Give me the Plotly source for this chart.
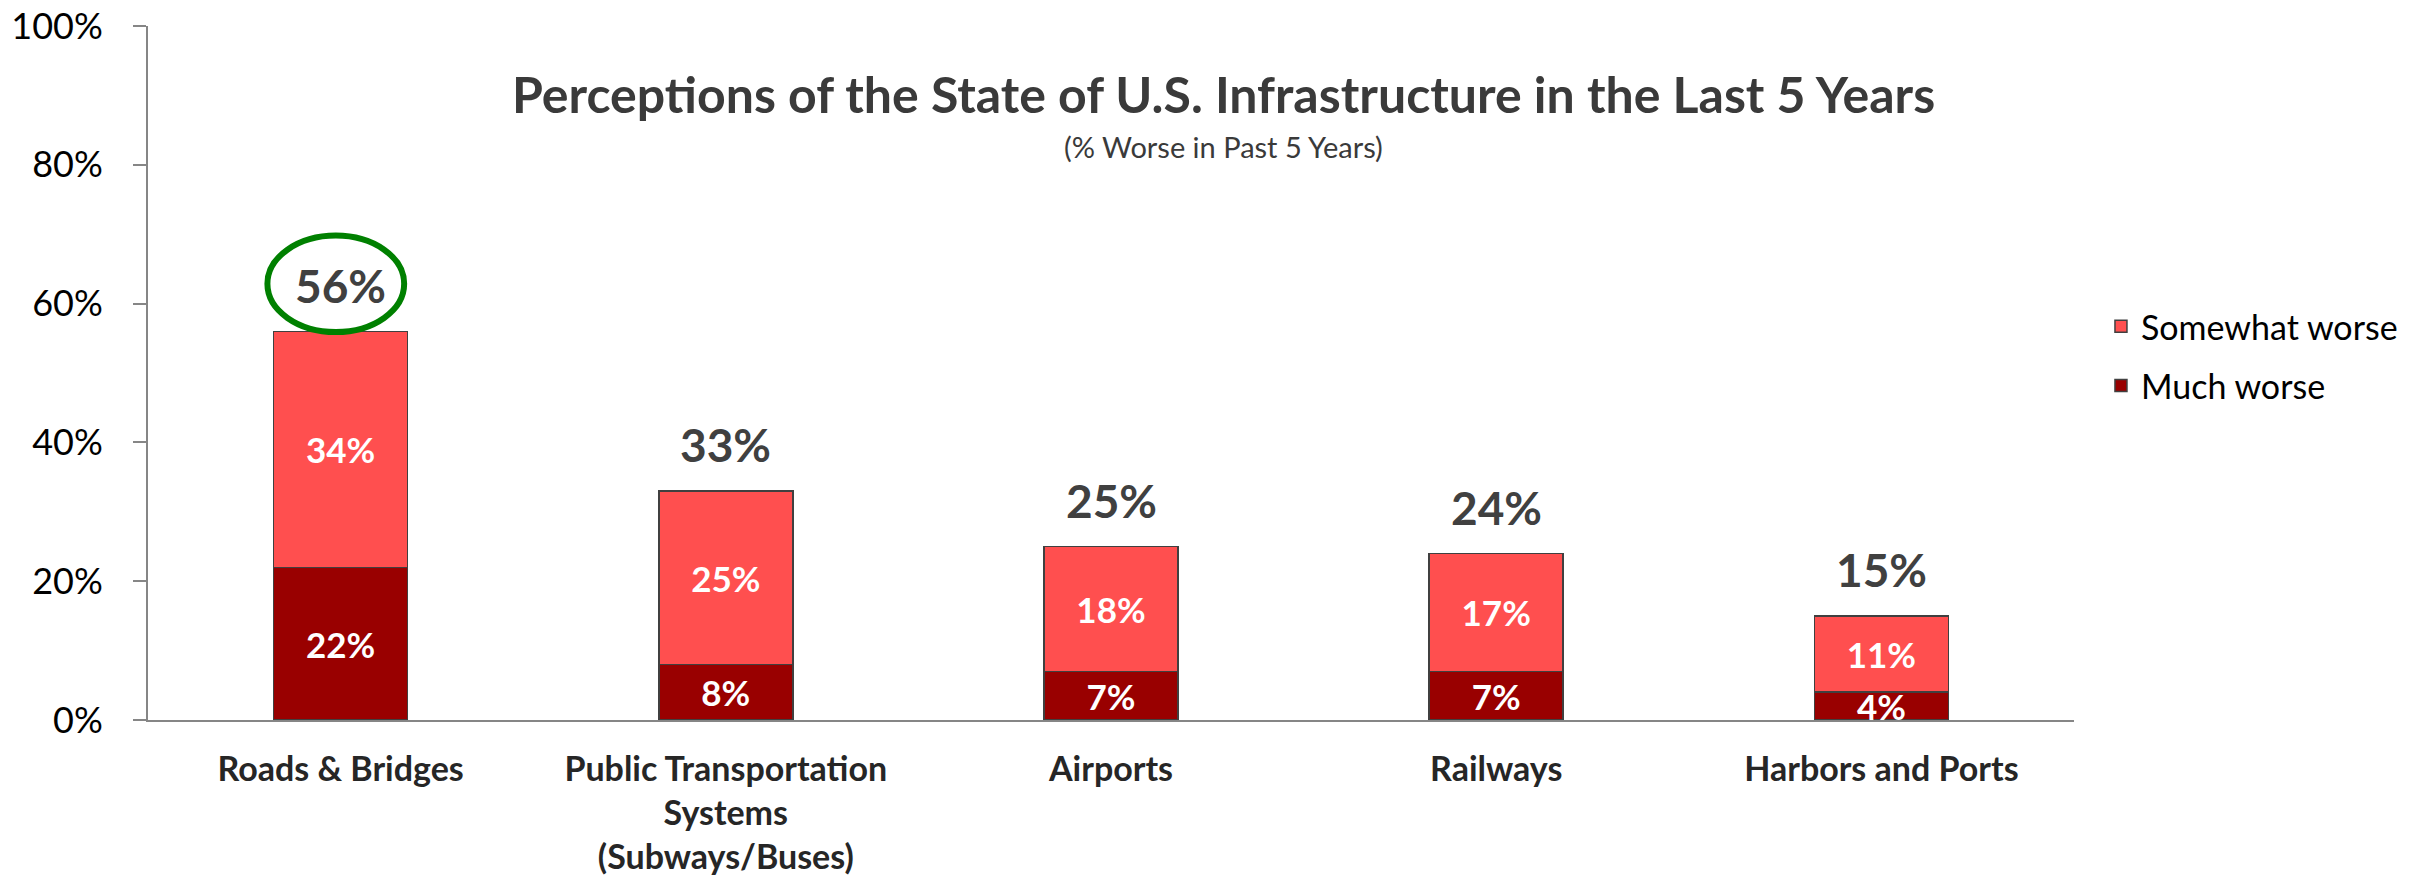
import plotly.graph_objects as go

categories = ["Roads & Bridges", "Public Transportation<br>Systems<br>(Subways/Buses)",
              "Airports", "Railways", "Harbors and Ports"]
much_worse = [22, 8, 7, 7, 4]
somewhat_worse = [34, 25, 18, 17, 11]
totals = [m + s for m, s in zip(much_worse, somewhat_worse)]
y_ticks = [0, 20, 40, 60, 80, 100]
y_ticklabels = [f"{v}%" for v in y_ticks]

FONT = "Lato"
W, H = 2430, 880
L, R, T, B = 148, 356, 26, 160

fig = go.Figure()
fig.add_trace(go.Bar(
    x=categories, y=much_worse, name="Much worse",
    marker=dict(color="#990000", line=dict(color="#404040", width=1.5)),
    text=[f"{v}%" for v in much_worse], textposition="inside",
    insidetextanchor="middle", textangle=0, constraintext="none",
    textfont=dict(family=FONT, size=35, color="white", weight="bold"),
    legendgroup="b", legendrank=2, hoverinfo="skip",
))
fig.add_trace(go.Bar(
    x=categories, y=somewhat_worse, name="Somewhat worse",
    marker=dict(color="#FF4F4F", line=dict(color="#404040", width=1.5)),
    text=[f"{v}%" for v in somewhat_worse], textposition="inside",
    insidetextanchor="middle", textangle=0, constraintext="none",
    textfont=dict(family=FONT, size=35, color="white", weight="bold"),
    legendgroup="a", legendrank=1, hoverinfo="skip",
))

for c, t in zip(categories, totals):
    fig.add_annotation(x=c, y=t, xref="x", yref="y", text=f"{t}%", showarrow=False,
                       yanchor="middle", yshift=46,
                       font=dict(family=FONT, size=46, color="#404040", weight="bold"))

# highlight ellipse around the largest total
fig.add_shape(type="circle", xref="x", yref="y", x0=-0.19, x1=0.165, y0=55.9, y1=69.8,
              line=dict(color="#008000", width=6), layer="above")

fig.add_annotation(xref="paper", yref="paper", x=(1223 - L) / (W - L - R), y=(H - B - 94) / (H - T - B),
                   text="Perceptions of the State of U.S. Infrastructure in the Last 5 Years",
                   showarrow=False, xanchor="center", yanchor="middle",
                   font=dict(family=FONT, size=50, color="#3A3A3A", weight="bold"))
fig.add_annotation(xref="paper", yref="paper", x=(1223 - L) / (W - L - R), y=(H - B - 146) / (H - T - B),
                   text="(% Worse in Past 5 Years)",
                   showarrow=False, xanchor="center", yanchor="middle",
                   font=dict(family=FONT, size=29, color="#3A3A3A"))

fig.update_layout(
    width=W, height=H,
    margin=dict(l=L, r=R, t=T, b=B, autoexpand=False),
    paper_bgcolor="white", plot_bgcolor="white",
    barmode="stack", bargap=0.652,
    showlegend=True,
    legend=dict(x=1.014, y=0.6085, xanchor="left", yanchor="top",
                font=dict(family=FONT, size=34, color="black"),
                tracegroupgap=12, bgcolor="rgba(0,0,0,0)"),
    font=dict(family=FONT),
)
fig.update_yaxes(range=[0, 100], tickvals=y_ticks, ticktext=y_ticklabels,
                 showgrid=False, zeroline=False, showline=True, linecolor="#868686", linewidth=2,
                 ticks="outside", ticklen=13, tickcolor="#868686", tickwidth=2,
                 ticklabelstandoff=23, ticklabeloverflow="allow",
                 tickfont=dict(family=FONT, size=36, color="black"))
fig.update_xaxes(showgrid=False, showline=True, linecolor="#868686", linewidth=2,
                 ticks="", ticklabelstandoff=18, ticklabeloverflow="allow",
                 tickfont=dict(family=FONT, size=34, color="#262626", weight="bold"))

fig.write_html("out.html", config={"displayModeBar": False},
               post_script="document.body.style.margin='0';")
